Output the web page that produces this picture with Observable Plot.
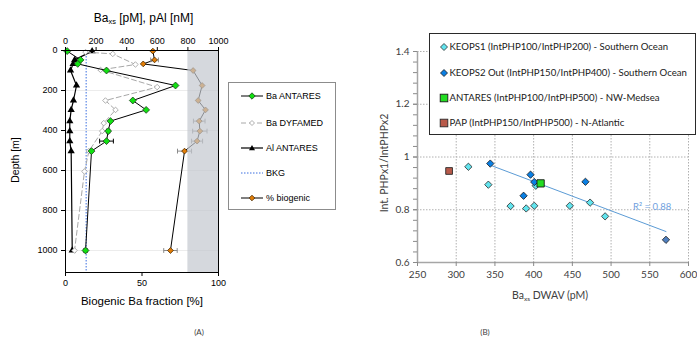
<!DOCTYPE html>
<html>
<head>
<meta charset="utf-8">
<script src="https://cdn.jsdelivr.net/npm/d3@7"></script>
<script src="https://cdn.jsdelivr.net/npm/@observablehq/plot@0.6"></script>
<style>
  body { margin: 0; background: #fff; }
  #root { position: relative; width: 697px; height: 343px; overflow: hidden; background: #fff; }
  .abs { position: absolute; white-space: nowrap; }
  .lA { font-family: 'Liberation Sans', Arial, sans-serif; color: #000; }
  .lB { font-family: Lato, 'Open Sans', sans-serif; color: #404040; }
  sub { font-size: 0.62em; vertical-align: -0.25em; line-height: 0; }
  .box { position: absolute; background: #fff; }
  .row { position: absolute; display: flex; align-items: center; }
</style>
</head>
<body>
<div id="root">
  <div id="left" class="abs" style="left:0;top:0"></div>
  <div id="right" class="abs" style="left:370px;top:0"></div>
</div>
<script>
// ---------- Panel A data ----------
const sampleDepth   = [3, 47, 67, 100, 175, 250, 297, 353, 403, 453, 503, 1000];
const baAntares     = [11, 98, 80, 268, 719, 440, 527, 294, 279, 268, 170, 131];
const baAntaresErr  = [0, 0, 0, 0, 0, 0, 0, 0, 10, 45, 0, 10];
const alAntares     = [174, 60, 50, 33, 72, 52, 37, 28, 28, 28, 37, 44];
const pctBiogenic   = [57.1, 58.2, 50.8, 83.4, 89.3, 86.7, 91.5, 87.4, 87.8, 86.0, 77.8, 68.6];
const pctErr        = [0, 2.5, 0, 0, 0, 0, 0, 3.8, 4.7, 3.6, 4.6, 4.4];
const dyfDepth      = [8, 17, 70, 97, 183, 250, 297, 363, 403, 503, 605, 1000];
const baDyfamed     = [131, 309, 457, 229, 599, 261, 327, 250, 240, 153, 124, 59];
const bkgBa         = [135];
const biogenicBand  = [{from: 80, to: 100}];
const depthTicks    = [0, 200, 400, 600, 800, 1000];
const baTicks       = [0, 200, 400, 600, 800, 1000];
const pctTicks      = [0, 50, 100];
const depthMax      = 1110;
const legendA = ["Ba ANTARES", "Ba DYFAMED", "Al ANTARES", "BKG", "% biogenic"];

// ---------- Panel B data ----------
const keops1X = [315.7, 341.5, 370.2, 390.4, 400.8, 402.8, 446.7, 472.9, 492.3];
const keops1Y = [0.963, 0.895, 0.814, 0.805, 0.815, 0.891, 0.815, 0.827, 0.775];
const keops2X = [344, 396, 400.8, 387, 466.9, 570.9];
const keops2Y = [0.975, 0.933, 0.905, 0.853, 0.906, 0.686];
const antaresX = [409];
const antaresY = [0.900];
const papX = [290.8];
const papY = [0.947];
const xTicksB = [250, 300, 350, 400, 450, 500, 550, 600];
const yTicksB = [0.6, 0.8, 1.0, 1.2, 1.4];
const yMinorB = d3.range(0, 21).map(i => 0.6 + i * 0.04);
const legendB = [
  "KEOPS1 (IntPHP100/IntPHP200) - Southern Ocean",
  "KEOPS2 Out (IntPHP150/IntPHP400) - Southern Ocean",
  "ANTARES (IntPHP100/IntPHP500) - NW-Medsea",
  "PAP (IntPHP150/IntPHP500) - N-Atlantic"
];
const r2Text = "R\u00B2 = 0.88";

// ---------- tables ----------
const antares = sampleDepth.map((d, i) => ({depth: d, ba: baAntares[i], baErr: baAntaresErr[i], al: alAntares[i], pct: pctBiogenic[i] * 10, pctErr: pctErr[i] * 10}));
const dyf = dyfDepth.map((d, i) => ({depth: d, ba: baDyfamed[i]}));
const baE = antares.filter(d => d.baErr > 0);
const pcE = antares.filter(d => d.pctErr > 0);
const capH = 12;
const plain = d => String(d);

function errMarks(data, xf, ef, color) {
  return [
    Plot.link(data, {x1: d => d[xf] - d[ef], x2: d => d[xf] + d[ef], y1: "depth", y2: "depth", stroke: color, strokeWidth: 1}),
    Plot.link(data, {x1: d => d[xf] - d[ef], x2: d => d[xf] - d[ef], y1: d => d.depth - capH, y2: d => d.depth + capH, stroke: color, strokeWidth: 1}),
    Plot.link(data, {x1: d => d[xf] + d[ef], x2: d => d[xf] + d[ef], y1: d => d.depth - capH, y2: d => d.depth + capH, stroke: color, strokeWidth: 1})
  ];
}

const left = Plot.plot({
  width: 230, height: 300,
  marginLeft: 65, marginRight: 12, marginTop: 50, marginBottom: 28,
  style: {fontFamily: "'Liberation Sans', Arial, sans-serif", fontSize: "9px", color: "#000", background: "transparent", overflow: "visible"},
  x: {domain: [0, 1000]},
  y: {domain: [0, depthMax], reverse: true},
  marks: [
    Plot.ruleY(depthTicks.slice(1), {stroke: "#ececec"}),
    Plot.ruleX(bkgBa, {stroke: "#3a6fe0", strokeDasharray: "1.5,1.5", strokeWidth: 1}),
    Plot.line(antares, {x: "al", y: "depth", stroke: "#000", strokeWidth: 1.2}),
    Plot.dot(antares, {x: "al", y: "depth", symbol: "triangle", fill: "#000", r: 2.7}),
    Plot.line(dyf, {x: "ba", y: "depth", stroke: "#a8a8a8", strokeDasharray: "5,3", strokeWidth: 1}),
    Plot.dot(dyf, {x: "ba", y: "depth", symbol: "diamond2", fill: "#fff", stroke: "#9a9a9a", strokeWidth: 0.8, r: 2.5}),
    Plot.line(antares, {x: "ba", y: "depth", stroke: "#000", strokeWidth: 1}),
    ...errMarks(baE, "ba", "baErr", "#000"),
    Plot.dot(antares, {x: "ba", y: "depth", symbol: "diamond2", fill: "#11e011", stroke: "#1d3d1d", strokeWidth: 0.8, r: 3.1}),
    Plot.line(antares, {x: "pct", y: "depth", stroke: "#000", strokeWidth: 1}),
    ...errMarks(pcE, "pct", "pctErr", "#8a8a8a"),
    Plot.dot(antares, {x: "pct", y: "depth", symbol: "diamond2", fill: "#e27d06", stroke: "#4a2a00", strokeWidth: 0.8, r: 2.6}),
    Plot.rect(biogenicBand, {x1: d => d.from * 10, x2: d => d.to * 10, fill: "#c3c8cf", fillOpacity: 0.7}),
    Plot.frame({stroke: "#000", strokeWidth: 1}),
    Plot.axisX(baTicks, {anchor: "top", tickSize: 4, tickPadding: 3, tickFormat: plain, label: null}),
    Plot.axisX(pctTicks.map(p => p * 10), {anchor: "bottom", tickSize: 4, tickPadding: 3, tickFormat: d => String(d / 10), label: null}),
    Plot.axisY(depthTicks, {anchor: "left", tickSize: 4, tickPadding: 4, tickFormat: plain, label: null})
  ]
});
document.getElementById("left").appendChild(left);

const keops1 = keops1X.map((x, i) => ({x, y: keops1Y[i]}));
const keops2 = keops2X.map((x, i) => ({x, y: keops2Y[i], last: i === keops2X.length - 1}));
const antR = antaresX.map((x, i) => ({x, y: antaresY[i]}));
const pap = papX.map((x, i) => ({x, y: papY[i]}));

const right = Plot.plot({
  width: 327, height: 300,
  marginLeft: 47, marginRight: 9, marginTop: 51, marginBottom: 38,
  style: {fontFamily: "Lato, 'Open Sans', sans-serif", fontSize: "10px", color: "#404040", background: "transparent", overflow: "visible"},
  x: {domain: [250, 600]},
  y: {domain: [0.6, 1.4]},
  marks: [
    Plot.gridX(xTicksB.slice(1), {stroke: "#b0b0b0", strokeDasharray: "1.5,1.5", strokeOpacity: 1}),
    Plot.gridY(yTicksB.slice(1), {stroke: "#b0b0b0", strokeDasharray: "1.5,1.5", strokeOpacity: 1}),
    Plot.ruleX([xTicksB[0]], {stroke: "#a6a6a6", strokeWidth: 1.5}),
    Plot.ruleY([yTicksB[0]], {stroke: "#a6a6a6", strokeWidth: 1.5}),
    Plot.axisY(yMinorB, {tickSize: 4, tickFormat: () => "", stroke: "#8a8a8a", label: null}),
    Plot.axisY(yTicksB, {tickSize: 4, tickPadding: 4, stroke: "#8a8a8a", tickFormat: d => String(+d.toFixed(1)), label: null}),
    Plot.axisX(xTicksB, {tickSize: 4, tickPadding: 4, stroke: "#8a8a8a", tickFormat: plain, label: null}),
    Plot.linearRegressionY(keops2, {x: "x", y: "y", stroke: "#5b9bd5", strokeWidth: 1, ci: 0}),
    Plot.dot(keops1, {x: "x", y: "y", symbol: "diamond2", fill: "#62e4ee", stroke: "#2a2a2a", strokeWidth: 0.8, r: 3.3}),
    Plot.dot(keops2, {x: "x", y: "y", symbol: "diamond2", fill: d => d.last ? "#4f7fbf" : "#0a7fe3", stroke: "#1a1a1a", strokeWidth: 0.8, r: 3.3}),
    Plot.dot(antR, {x: "x", y: "y", symbol: "square", fill: "#22dd22", stroke: "#1a1a1a", strokeWidth: 0.9, r: 4.1}),
    Plot.dot(pap, {x: "x", y: "y", symbol: "square", fill: "#b85a4a", stroke: "#2a2a2a", strokeWidth: 0.9, r: 3.8})
  ]
});
document.getElementById("right").appendChild(right);

// ---------- HTML texts & legends ----------
const root = document.getElementById("root");
function add(html, style, cls) {
  const d = document.createElement("div");
  d.className = "abs " + (cls || "");
  d.innerHTML = html;
  d.setAttribute("style", style);
  root.appendChild(d);
  return d;
}
// Panel A labels
add("Ba<sub>xs</sub> [pM], pAl [nM]", "left:0;width:287px;text-align:center;top:11px;font-size:12px;line-height:14px", "lA");
add("Depth [m]", "left:-35px;width:100px;text-align:center;top:153px;font-size:10.5px;line-height:14px;transform:rotate(-90deg)", "lA");
add("Biogenic Ba fraction [%]", "left:42px;width:200px;text-align:center;top:294px;font-size:11.5px;line-height:14px", "lA");
add("(A)", "left:189px;width:20px;text-align:center;top:327px;font-size:8px;line-height:10px", "lB");
add("(B)", "left:475px;width:20px;text-align:center;top:327px;font-size:8px;line-height:10px", "lB");

// Panel A legend
const lgA = add("", "left:228px;top:82px;width:106px;height:126px;border:1px solid #8c8c8c;background:#fff", "lA");
const symA = [
  `<line x1="0" y1="5" x2="22" y2="5" stroke="#000" stroke-width="1"/><path d="M11 1.8 L14.2 5 L11 8.2 L7.8 5Z" fill="#11e011" stroke="#1d3d1d" stroke-width="0.8"/>`,
  `<line x1="0" y1="5" x2="22" y2="5" stroke="#a8a8a8" stroke-width="1" stroke-dasharray="5,3"/><path d="M11 2.5 L13.5 5 L11 7.5 L8.5 5Z" fill="#fff" stroke="#9a9a9a" stroke-width="0.8"/>`,
  `<line x1="0" y1="5" x2="22" y2="5" stroke="#000" stroke-width="1.2"/><path d="M11 2 L14 7.2 L8 7.2Z" fill="#000"/>`,
  `<line x1="0" y1="5" x2="22" y2="5" stroke="#3a6fe0" stroke-width="1" stroke-dasharray="1.5,1.5"/>`,
  `<line x1="0" y1="5" x2="22" y2="5" stroke="#000" stroke-width="1"/><path d="M11 2.2 L13.8 5 L11 7.8 L8.2 5Z" fill="#e27d06" stroke="#4a2a00" stroke-width="0.8"/>`
];
const rowYA = [13, 40, 65, 90, 115];
legendA.forEach((t, i) => {
  const r = document.createElement("div");
  r.className = "row";
  r.setAttribute("style", `left:12px;top:${rowYA[i] - 6}px;height:12px;font-size:9px;line-height:12px`);
  r.innerHTML = `<svg width="23" height="10" style="display:block">${symA[i]}</svg><span style="margin-left:2px">${t}</span>`;
  lgA.appendChild(r);
});

// Panel B labels
add("Ba<sub>xs</sub> DWAV (pM)", "left:450px;width:200px;text-align:center;top:288px;font-size:10.5px;line-height:14px", "lB");
add("Int. PHPx1/IntPHPx2", "left:324px;width:120px;text-align:center;top:156px;font-size:10.5px;line-height:14px;transform:rotate(-90deg)", "lB");
add(r2Text, "left:633px;top:201px;font-size:9.5px;line-height:12px;color:#6f9fe0", "lB");

// Panel B legend
const lgB = add("", "left:429px;top:33px;width:265px;height:100px;border:1px solid #2a2a2a;background:#fff", "lB");
const symB = [
  `<path d="M5 1.5 L8.5 5 L5 8.5 L1.5 5Z" fill="#62e4ee" stroke="#2a2a2a" stroke-width="0.8"/>`,
  `<path d="M5 1.5 L8.5 5 L5 8.5 L1.5 5Z" fill="#0a7fe3" stroke="#1a1a1a" stroke-width="0.8"/>`,
  `<rect x="1.2" y="1.2" width="7.6" height="7.6" fill="#22dd22" stroke="#1a1a1a" stroke-width="0.9"/>`,
  `<rect x="1.2" y="1.2" width="7.6" height="7.6" fill="#b85a4a" stroke="#2a2a2a" stroke-width="0.9"/>`
];
const rowYB = [12.7, 38.7, 63.7, 89.3];
legendB.forEach((t, i) => {
  const r = document.createElement("div");
  r.className = "row";
  r.setAttribute("style", `left:8.5px;top:${rowYB[i] - 6}px;height:12px;font-size:9.6px;line-height:12px;color:#1a1a1a`);
  r.innerHTML = `<svg width="10" height="10" style="display:block">${symB[i]}</svg><span style="margin-left:1px">${t}</span>`;
  lgB.appendChild(r);
});
</script>
</body>
</html>
